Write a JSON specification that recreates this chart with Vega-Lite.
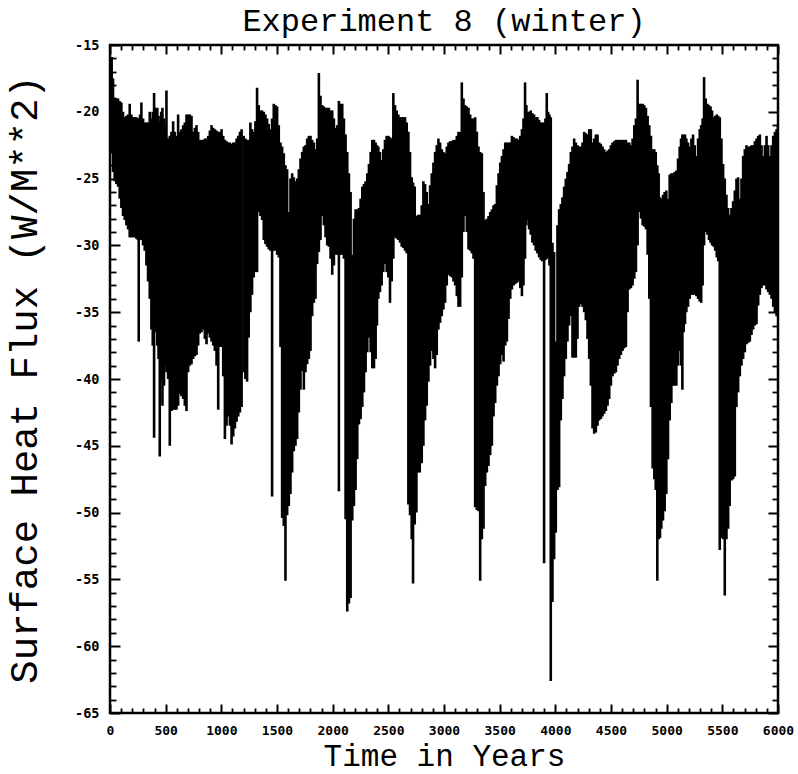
{
  "$schema": "https://vega.github.io/schema/vega-lite/v6.json",
  "width": 668,
  "height": 668,
  "autosize": {"type": "none"},
  "padding": {"left": 110, "top": 45, "right": 20, "bottom": 61},
  "background": "white",
  "title": {"text": "Experiment 8 (winter)", "font": "Liberation Mono", "fontSize": 32, "fontWeight": "normal", "anchor": "middle", "baseline": "alphabetic", "offset": 12, "dy": 37, "color": "black"},
  "config": {
    "view": {"stroke": "black", "strokeWidth": 2.5},
    "axis": {"grid": false, "domain": false, "labelColor": "black", "tickColor": "black", "titleColor": "black"}
  },
  "resolve": {"axis": {"x": "independent", "y": "independent"}},
  "layer": [
    {
      "data": {"values": [
{"t":0,"hi":-16.5,"lo":-21.5},{"t":15,"hi":-15.9,"lo":-23.0},{"t":27,"hi":-17.5,"lo":-24.5},{"t":42,"hi":-19.0,"lo":-25.2},{"t":57,"hi":-19.0,"lo":-25.4},{"t":72,"hi":-19.0,"lo":-25.6},{"t":87,"hi":-19.2,"lo":-26.5},{"t":102,"hi":-19.3,"lo":-27.2},{"t":117,"hi":-20.0,"lo":-27.8},{"t":132,"hi":-20.4,"lo":-28.1},{"t":147,"hi":-20.3,"lo":-28.5},{"t":162,"hi":-20.2,"lo":-28.8},{"t":177,"hi":-19.4,"lo":-29.4},{"t":192,"hi":-20.2,"lo":-29.4},{"t":207,"hi":-20.4,"lo":-29.4},{"t":222,"hi":-20.4,"lo":-29.4},{"t":237,"hi":-20.4,"lo":-29.5},{"t":250,"hi":-20.5,"lo":-29.6},{"t":258,"hi":-20.5,"lo":-37.2},{"t":270,"hi":-20.2,"lo":-29.6},{"t":282,"hi":-19.3,"lo":-29.6},{"t":297,"hi":-20.5,"lo":-30.0},{"t":312,"hi":-20.8,"lo":-30.4},{"t":327,"hi":-20.8,"lo":-31.5},{"t":342,"hi":-20.8,"lo":-32.7},{"t":357,"hi":-20.0,"lo":-34.0},{"t":372,"hi":-20.5,"lo":-36.3},{"t":384,"hi":-20.0,"lo":-37.5},{"t":396,"hi":-18.6,"lo":-44.4},{"t":410,"hi":-19.7,"lo":-36.5},{"t":425,"hi":-19.7,"lo":-37.5},{"t":436,"hi":-20.3,"lo":-38.5},{"t":447,"hi":-20.7,"lo":-45.8},{"t":460,"hi":-20.0,"lo":-40.0},{"t":471,"hi":-19.7,"lo":-42.0},{"t":485,"hi":-20.5,"lo":-40.5},{"t":496,"hi":-21.0,"lo":-39.0},{"t":507,"hi":-18.4,"lo":-39.5},{"t":522,"hi":-22.0,"lo":-40.0},{"t":537,"hi":-21.8,"lo":-45.0},{"t":552,"hi":-21.5,"lo":-42.4},{"t":567,"hi":-20.7,"lo":-42.3},{"t":582,"hi":-21.5,"lo":-42.3},{"t":597,"hi":-21.8,"lo":-42.3},{"t":612,"hi":-20.2,"lo":-42.0},{"t":627,"hi":-21.5,"lo":-41.1},{"t":642,"hi":-21.3,"lo":-41.3},{"t":657,"hi":-21.0,"lo":-41.5},{"t":672,"hi":-20.8,"lo":-42.0},{"t":687,"hi":-20.2,"lo":-42.4},{"t":702,"hi":-20.2,"lo":-39.5},{"t":717,"hi":-20.2,"lo":-39.0},{"t":732,"hi":-20.3,"lo":-38.9},{"t":747,"hi":-21.5,"lo":-38.5},{"t":762,"hi":-21.2,"lo":-38.3},{"t":777,"hi":-21.0,"lo":-38.2},{"t":792,"hi":-21.5,"lo":-37.5},{"t":807,"hi":-22.1,"lo":-36.6},{"t":822,"hi":-22.1,"lo":-36.5},{"t":837,"hi":-22.1,"lo":-36.3},{"t":852,"hi":-22.0,"lo":-37.0},{"t":867,"hi":-22.0,"lo":-37.4},{"t":882,"hi":-21.8,"lo":-36.6},{"t":897,"hi":-21.4,"lo":-36.9},{"t":912,"hi":-21.0,"lo":-37.2},{"t":927,"hi":-21.2,"lo":-37.5},{"t":942,"hi":-21.3,"lo":-37.9},{"t":957,"hi":-21.4,"lo":-39.0},{"t":972,"hi":-21.5,"lo":-42.3},{"t":987,"hi":-21.5,"lo":-37.6},{"t":1002,"hi":-21.3,"lo":-37.6},{"t":1017,"hi":-21.8,"lo":-39.8},{"t":1032,"hi":-22.1,"lo":-44.5},{"t":1047,"hi":-22.2,"lo":-43.5},{"t":1062,"hi":-22.3,"lo":-42.8},{"t":1077,"hi":-22.3,"lo":-43.5},{"t":1092,"hi":-22.4,"lo":-44.9},{"t":1107,"hi":-22.3,"lo":-44.3},{"t":1122,"hi":-22.3,"lo":-43.7},{"t":1137,"hi":-22.0,"lo":-43.2},{"t":1152,"hi":-21.8,"lo":-42.8},{"t":1167,"hi":-21.5,"lo":-42.5},{"t":1182,"hi":-21.3,"lo":-42.1},
{"t":1201,"hi":-21.8,"lo":-39.5},{"t":1216,"hi":-22.0,"lo":-40.0},{"t":1231,"hi":-22.1,"lo":-40.2},{"t":1246,"hi":-22.1,"lo":-36.9},{"t":1261,"hi":-20.8,"lo":-35.0},{"t":1276,"hi":-21.3,"lo":-33.7},{"t":1291,"hi":-21.5,"lo":-32.4},{"t":1306,"hi":-20.7,"lo":-32.0},{"t":1321,"hi":-18.2,"lo":-32.0},{"t":1336,"hi":-19.5,"lo":-27.5},{"t":1351,"hi":-19.9,"lo":-27.8},{"t":1366,"hi":-19.9,"lo":-28.1},{"t":1381,"hi":-20.0,"lo":-29.6},{"t":1396,"hi":-20.2,"lo":-29.9},{"t":1411,"hi":-20.5,"lo":-30.1},{"t":1426,"hi":-20.9,"lo":-30.3},{"t":1441,"hi":-21.3,"lo":-30.4},{"t":1456,"hi":-20.5,"lo":-48.8},{"t":1471,"hi":-19.4,"lo":-30.4},{"t":1486,"hi":-19.5,"lo":-30.4},{"t":1501,"hi":-19.6,"lo":-30.7},{"t":1516,"hi":-21.0,"lo":-30.9},{"t":1531,"hi":-22.3,"lo":-37.6},{"t":1546,"hi":-22.6,"lo":-50.4},{"t":1561,"hi":-23.1,"lo":-51.0},{"t":1576,"hi":-24.0,"lo":-55.1},{"t":1591,"hi":-24.3,"lo":-50.2},{"t":1606,"hi":-27.5,"lo":-49.5},{"t":1621,"hi":-25.0,"lo":-48.6},{"t":1636,"hi":-24.6,"lo":-47.0},{"t":1651,"hi":-24.9,"lo":-45.4},{"t":1666,"hi":-25.2,"lo":-45.0},{"t":1681,"hi":-25.0,"lo":-44.5},{"t":1696,"hi":-24.3,"lo":-42.5},{"t":1711,"hi":-23.5,"lo":-40.8},{"t":1726,"hi":-23.0,"lo":-39.4},{"t":1741,"hi":-22.6,"lo":-40.8},{"t":1756,"hi":-22.5,"lo":-39.5},{"t":1771,"hi":-22.0,"lo":-38.9},{"t":1786,"hi":-21.8,"lo":-38.5},{"t":1801,"hi":-21.8,"lo":-37.9},{"t":1816,"hi":-22.1,"lo":-35.3},{"t":1831,"hi":-22.3,"lo":-34.3},{"t":1846,"hi":-22.8,"lo":-34.0},{"t":1861,"hi":-22.0,"lo":-31.4},{"t":1876,"hi":-17.1,"lo":-30.5},{"t":1891,"hi":-18.8,"lo":-29.6},{"t":1906,"hi":-19.5,"lo":-27.8},{"t":1921,"hi":-19.6,"lo":-28.5},{"t":1936,"hi":-19.7,"lo":-29.4},{"t":1951,"hi":-19.7,"lo":-30.0},{"t":1966,"hi":-19.7,"lo":-30.1},{"t":1981,"hi":-19.9,"lo":-31.0},{"t":1996,"hi":-19.9,"lo":-32.2},{"t":2011,"hi":-20.5,"lo":-31.5},{"t":2026,"hi":-21.2,"lo":-30.7},{"t":2041,"hi":-21.0,"lo":-30.7},{"t":2056,"hi":-19.2,"lo":-48.4},{"t":2071,"hi":-19.4,"lo":-30.7},{"t":2086,"hi":-19.4,"lo":-30.7},{"t":2101,"hi":-20.5,"lo":-31.0},{"t":2116,"hi":-21.7,"lo":-50.5},{"t":2131,"hi":-23.0,"lo":-57.4},{"t":2146,"hi":-24.6,"lo":-56.8},{"t":2161,"hi":-26.0,"lo":-56.4},{"t":2176,"hi":-30.7,"lo":-50.6},{"t":2191,"hi":-28.0,"lo":-49.5},{"t":2206,"hi":-27.3,"lo":-48.3},{"t":2221,"hi":-27.3,"lo":-46.0},{"t":2236,"hi":-27.2,"lo":-43.4},{"t":2251,"hi":-26.5,"lo":-43.0},{"t":2266,"hi":-25.6,"lo":-42.1},{"t":2281,"hi":-25.4,"lo":-41.0},{"t":2296,"hi":-25.2,"lo":-39.5},{"t":2311,"hi":-24.6,"lo":-38.0},{"t":2326,"hi":-23.9,"lo":-36.9},{"t":2341,"hi":-23.0,"lo":-38.0},{"t":2356,"hi":-22.1,"lo":-39.2},{"t":2371,"hi":-22.1,"lo":-39.2},{"t":2386,"hi":-22.3,"lo":-38.5},{"t":2398,"hi":-22.5,"lo":-36.0},
{"t":2410,"hi":-22.6,"lo":-34.0},{"t":2425,"hi":-23.0,"lo":-33.5},{"t":2440,"hi":-23.6,"lo":-33.0},{"t":2455,"hi":-22.8,"lo":-32.0},{"t":2470,"hi":-22.1,"lo":-31.4},{"t":2485,"hi":-21.8,"lo":-32.0},{"t":2500,"hi":-21.8,"lo":-32.4},{"t":2515,"hi":-21.9,"lo":-34.3},{"t":2530,"hi":-22.0,"lo":-32.7},{"t":2545,"hi":-18.6,"lo":-31.0},{"t":2560,"hi":-19.5,"lo":-29.4},{"t":2575,"hi":-19.9,"lo":-29.5},{"t":2590,"hi":-20.2,"lo":-29.6},{"t":2605,"hi":-20.4,"lo":-29.8},{"t":2620,"hi":-20.4,"lo":-30.1},{"t":2635,"hi":-20.4,"lo":-30.2},{"t":2650,"hi":-20.4,"lo":-30.4},{"t":2665,"hi":-20.8,"lo":-30.6},{"t":2680,"hi":-21.5,"lo":-49.4},{"t":2695,"hi":-23.0,"lo":-50.2},{"t":2710,"hi":-24.9,"lo":-52.0},{"t":2722,"hi":-25.3,"lo":-55.3},{"t":2737,"hi":-25.6,"lo":-50.9},{"t":2752,"hi":-27.8,"lo":-50.0},{"t":2767,"hi":-27.7,"lo":-47.0},{"t":2782,"hi":-27.7,"lo":-47.0},{"t":2800,"hi":-27.0,"lo":-46.3},{"t":2815,"hi":-25.2,"lo":-45.0},{"t":2830,"hi":-25.4,"lo":-43.1},{"t":2845,"hi":-26.0,"lo":-42.0},{"t":2860,"hi":-26.9,"lo":-40.2},{"t":2875,"hi":-25.5,"lo":-39.0},{"t":2890,"hi":-24.6,"lo":-37.9},{"t":2905,"hi":-23.8,"lo":-38.5},{"t":2920,"hi":-23.0,"lo":-39.2},{"t":2935,"hi":-22.5,"lo":-38.2},{"t":2950,"hi":-22.0,"lo":-36.3},{"t":2965,"hi":-22.3,"lo":-35.8},{"t":2980,"hi":-22.8,"lo":-35.3},{"t":2995,"hi":-23.0,"lo":-34.8},{"t":3010,"hi":-23.1,"lo":-34.3},{"t":3025,"hi":-22.6,"lo":-33.0},{"t":3040,"hi":-22.3,"lo":-32.2},{"t":3055,"hi":-22.2,"lo":-32.3},{"t":3070,"hi":-22.2,"lo":-32.4},{"t":3085,"hi":-22.1,"lo":-32.7},{"t":3100,"hi":-22.1,"lo":-33.0},{"t":3115,"hi":-21.8,"lo":-33.8},{"t":3130,"hi":-21.5,"lo":-34.6},{"t":3145,"hi":-21.5,"lo":-34.6},{"t":3160,"hi":-17.8,"lo":-32.4},{"t":3175,"hi":-19.0,"lo":-29.0},{"t":3190,"hi":-19.5,"lo":-27.8},{"t":3205,"hi":-19.6,"lo":-29.0},{"t":3220,"hi":-19.7,"lo":-30.3},{"t":3235,"hi":-20.2,"lo":-30.4},{"t":3250,"hi":-20.5,"lo":-30.6},{"t":3265,"hi":-20.5,"lo":-31.0},{"t":3280,"hi":-20.4,"lo":-49.6},{"t":3295,"hi":-21.5,"lo":-49.8},{"t":3310,"hi":-22.6,"lo":-49.9},{"t":3325,"hi":-23.0,"lo":-55.1},{"t":3340,"hi":-23.1,"lo":-52.0},{"t":3355,"hi":-26.0,"lo":-51.2},{"t":3370,"hi":-28.1,"lo":-48.0},{"t":3385,"hi":-28.0,"lo":-47.0},{"t":3400,"hi":-27.8,"lo":-46.5},{"t":3415,"hi":-27.5,"lo":-45.7},{"t":3430,"hi":-27.3,"lo":-45.0},{"t":3445,"hi":-27.0,"lo":-42.8},{"t":3460,"hi":-26.9,"lo":-41.8},{"t":3475,"hi":-25.5,"lo":-40.5},{"t":3490,"hi":-24.6,"lo":-39.8},{"t":3505,"hi":-23.8,"lo":-38.9},{"t":3520,"hi":-23.3,"lo":-38.2},{"t":3535,"hi":-22.8,"lo":-38.7},{"t":3550,"hi":-22.3,"lo":-37.5},{"t":3565,"hi":-22.3,"lo":-37.2},{"t":3580,"hi":-22.3,"lo":-35.5},
{"t":3595,"hi":-22.3,"lo":-34.0},{"t":3610,"hi":-21.8,"lo":-33.3},{"t":3625,"hi":-21.9,"lo":-33.0},{"t":3640,"hi":-22.0,"lo":-32.9},{"t":3655,"hi":-22.0,"lo":-32.8},{"t":3670,"hi":-22.1,"lo":-32.7},{"t":3685,"hi":-21.8,"lo":-33.2},{"t":3700,"hi":-21.3,"lo":-33.8},{"t":3714,"hi":-20.5,"lo":-33.0},{"t":3728,"hi":-17.8,"lo":-31.0},{"t":3740,"hi":-19.5,"lo":-28.5},{"t":3752,"hi":-20.0,"lo":-28.1},{"t":3764,"hi":-20.0,"lo":-28.8},{"t":3779,"hi":-19.9,"lo":-29.2},{"t":3794,"hi":-20.1,"lo":-29.8},{"t":3809,"hi":-20.2,"lo":-30.0},{"t":3824,"hi":-20.4,"lo":-30.4},{"t":3839,"hi":-20.4,"lo":-30.6},{"t":3854,"hi":-20.6,"lo":-30.9},{"t":3869,"hi":-20.8,"lo":-31.1},{"t":3884,"hi":-20.8,"lo":-31.2},{"t":3899,"hi":-20.8,"lo":-53.8},{"t":3911,"hi":-20.5,"lo":-31.1},{"t":3923,"hi":-18.6,"lo":-31.0},{"t":3935,"hi":-20.0,"lo":-30.9},{"t":3947,"hi":-20.2,"lo":-31.5},{"t":3959,"hi":-20.4,"lo":-62.6},{"t":3974,"hi":-29.8,"lo":-56.7},{"t":3989,"hi":-30.5,"lo":-53.5},{"t":4004,"hi":-37.2,"lo":-51.5},{"t":4019,"hi":-28.5,"lo":-48.3},{"t":4034,"hi":-27.3,"lo":-48.1},{"t":4049,"hi":-26.9,"lo":-43.1},{"t":4064,"hi":-26.4,"lo":-41.5},{"t":4079,"hi":-25.6,"lo":-39.8},{"t":4094,"hi":-25.0,"lo":-38.5},{"t":4109,"hi":-24.5,"lo":-37.2},{"t":4124,"hi":-23.9,"lo":-36.0},{"t":4139,"hi":-23.0,"lo":-35.3},{"t":4154,"hi":-22.6,"lo":-38.4},{"t":4169,"hi":-22.0,"lo":-38.4},{"t":4184,"hi":-22.3,"lo":-38.4},{"t":4199,"hi":-22.5,"lo":-37.0},{"t":4214,"hi":-22.6,"lo":-34.6},{"t":4229,"hi":-22.6,"lo":-34.4},{"t":4244,"hi":-22.3,"lo":-34.6},{"t":4259,"hi":-21.5,"lo":-35.0},{"t":4274,"hi":-21.6,"lo":-35.6},{"t":4289,"hi":-21.7,"lo":-37.0},{"t":4304,"hi":-21.3,"lo":-38.5},{"t":4319,"hi":-21.3,"lo":-40.5},{"t":4334,"hi":-22.3,"lo":-43.7},{"t":4349,"hi":-22.0,"lo":-44.1},{"t":4364,"hi":-21.7,"lo":-44.0},{"t":4379,"hi":-21.7,"lo":-43.5},{"t":4394,"hi":-22.3,"lo":-43.1},{"t":4409,"hi":-22.4,"lo":-43.0},{"t":4424,"hi":-22.6,"lo":-42.8},{"t":4439,"hi":-22.8,"lo":-42.6},{"t":4454,"hi":-23.0,"lo":-42.4},{"t":4469,"hi":-22.9,"lo":-42.0},{"t":4484,"hi":-22.8,"lo":-41.5},{"t":4499,"hi":-22.5,"lo":-40.5},{"t":4514,"hi":-22.3,"lo":-39.8},{"t":4529,"hi":-22.2,"lo":-39.6},{"t":4544,"hi":-22.1,"lo":-39.5},{"t":4559,"hi":-22.1,"lo":-39.0},{"t":4574,"hi":-22.1,"lo":-38.5},{"t":4589,"hi":-22.1,"lo":-38.2},{"t":4604,"hi":-22.1,"lo":-37.9},{"t":4619,"hi":-22.1,"lo":-37.7},{"t":4634,"hi":-22.1,"lo":-37.6},{"t":4649,"hi":-22.3,"lo":-35.0},{"t":4664,"hi":-22.3,"lo":-33.3},{"t":4679,"hi":-22.5,"lo":-33.2},{"t":4694,"hi":-22.0,"lo":-33.0},{"t":4709,"hi":-21.0,"lo":-32.5},{"t":4724,"hi":-20.5,"lo":-32.0},{"t":4739,"hi":-17.6,"lo":-30.0},{"t":4754,"hi":-19.4,"lo":-27.5},{"t":4769,"hi":-19.4,"lo":-28.0},{"t":4784,"hi":-19.4,"lo":-28.5},
{"t":4799,"hi":-19.5,"lo":-28.6},{"t":4814,"hi":-19.7,"lo":-28.8},{"t":4829,"hi":-20.3,"lo":-30.7},{"t":4844,"hi":-21.0,"lo":-34.0},{"t":4859,"hi":-21.8,"lo":-42.1},{"t":4874,"hi":-22.8,"lo":-46.7},{"t":4889,"hi":-22.8,"lo":-47.5},{"t":4902,"hi":-23.0,"lo":-48.3},{"t":4916,"hi":-24.0,"lo":-55.1},{"t":4928,"hi":-24.6,"lo":-52.0},{"t":4940,"hi":-26.4,"lo":-51.9},{"t":4952,"hi":-26.5,"lo":-51.2},{"t":4967,"hi":-26.2,"lo":-50.6},{"t":4982,"hi":-26.0,"lo":-49.9},{"t":4997,"hi":-25.9,"lo":-48.6},{"t":5012,"hi":-26.5,"lo":-46.0},{"t":5027,"hi":-24.7,"lo":-43.1},{"t":5042,"hi":-24.6,"lo":-41.8},{"t":5057,"hi":-24.6,"lo":-40.5},{"t":5072,"hi":-24.5,"lo":-40.5},{"t":5087,"hi":-24.4,"lo":-40.5},{"t":5102,"hi":-23.5,"lo":-39.0},{"t":5117,"hi":-22.6,"lo":-37.9},{"t":5129,"hi":-22.0,"lo":-39.0},{"t":5141,"hi":-21.7,"lo":-40.8},{"t":5153,"hi":-21.7,"lo":-36.5},{"t":5165,"hi":-21.7,"lo":-35.9},{"t":5177,"hi":-22.0,"lo":-35.0},{"t":5192,"hi":-22.3,"lo":-34.6},{"t":5207,"hi":-22.6,"lo":-34.0},{"t":5222,"hi":-22.0,"lo":-33.7},{"t":5237,"hi":-21.7,"lo":-33.7},{"t":5252,"hi":-22.5,"lo":-33.7},{"t":5267,"hi":-23.3,"lo":-33.8},{"t":5282,"hi":-22.0,"lo":-34.0},{"t":5297,"hi":-21.3,"lo":-34.2},{"t":5310,"hi":-21.0,"lo":-34.3},{"t":5323,"hi":-20.5,"lo":-33.0},{"t":5336,"hi":-17.4,"lo":-30.0},{"t":5351,"hi":-19.0,"lo":-29.0},{"t":5366,"hi":-19.4,"lo":-29.2},{"t":5380,"hi":-19.5,"lo":-29.6},{"t":5394,"hi":-19.6,"lo":-29.8},{"t":5408,"hi":-19.9,"lo":-30.0},{"t":5422,"hi":-20.4,"lo":-30.1},{"t":5436,"hi":-20.3,"lo":-30.4},{"t":5450,"hi":-20.2,"lo":-30.9},{"t":5463,"hi":-20.3,"lo":-31.2},{"t":5477,"hi":-20.4,"lo":-52.8},{"t":5492,"hi":-22.0,"lo":-51.9},{"t":5507,"hi":-23.9,"lo":-52.0},{"t":5522,"hi":-25.0,"lo":-56.2},{"t":5537,"hi":-26.2,"lo":-52.0},{"t":5552,"hi":-27.2,"lo":-51.2},{"t":5566,"hi":-27.7,"lo":-49.5},{"t":5582,"hi":-27.2,"lo":-47.6},{"t":5597,"hi":-26.7,"lo":-47.5},{"t":5612,"hi":-25.9,"lo":-47.3},{"t":5627,"hi":-25.0,"lo":-42.1},{"t":5642,"hi":-24.9,"lo":-41.0},{"t":5657,"hi":-26.5,"lo":-39.8},{"t":5672,"hi":-25.0,"lo":-39.0},{"t":5687,"hi":-23.3,"lo":-38.5},{"t":5702,"hi":-22.8,"lo":-38.0},{"t":5717,"hi":-22.5,"lo":-37.4},{"t":5732,"hi":-22.6,"lo":-37.3},{"t":5747,"hi":-22.6,"lo":-37.2},{"t":5762,"hi":-22.5,"lo":-36.7},{"t":5777,"hi":-22.5,"lo":-36.3},{"t":5792,"hi":-22.2,"lo":-36.0},{"t":5807,"hi":-22.0,"lo":-35.9},{"t":5822,"hi":-21.8,"lo":-34.5},{"t":5837,"hi":-21.7,"lo":-33.7},{"t":5852,"hi":-22.5,"lo":-33.2},{"t":5867,"hi":-23.3,"lo":-33.0},{"t":5882,"hi":-22.5,"lo":-33.0},{"t":5897,"hi":-21.8,"lo":-33.3},{"t":5912,"hi":-22.5,"lo":-33.5},{"t":5927,"hi":-23.3,"lo":-33.7},{"t":5942,"hi":-22.5,"lo":-34.0},{"t":5957,"hi":-21.8,"lo":-34.6},{"t":5972,"hi":-21.5,"lo":-35.0},{"t":5987,"hi":-21.3,"lo":-35.3},{"t":6000,"hi":-21.0,"lo":-35.3}
      ]},
      "mark": {"type": "rule", "color": "black", "strokeWidth": 2.6, "strokeCap": "butt", "clip": true},
      "encoding": {
        "x": {"field": "t", "type": "quantitative", "scale": {"domain": [0, 6000], "nice": false, "zero": false},
          "axis": {"orient": "bottom", "values": [0,500,1000,1500,2000,2500,3000,3500,4000,4500,5000,5500,6000], "ticks": false, "labelFont": "DejaVu Sans Mono", "labelFontWeight": "bold", "labelFontSize": 13, "labelPadding": 11, "labelFlush": false, "labelOverlap": false, "labelExpr": "'' + datum.value",
            "title": "Time in Years", "titleFont": "Liberation Mono", "titleFontSize": 31, "titleFontWeight": "normal", "titleY": 52, "titleBaseline": "alphabetic"}},
        "y": {"field": "lo", "type": "quantitative", "scale": {"domain": [-65, -15], "nice": false, "zero": false},
          "axis": {"orient": "left", "values": [-65,-60,-55,-50,-45,-40,-35,-30,-25,-20,-15], "ticks": false, "labelFont": "DejaVu Sans Mono", "labelFontWeight": "bold", "labelFontSize": 13.5, "labelPadding": 11, "labelFlush": false, "labelOverlap": false, "labelExpr": "'' + datum.value",
            "title": "Surface Heat Flux (W/M**2)", "titleFont": "Liberation Mono", "titleFontSize": 39, "titleFontWeight": "normal", "titleX": -74, "titleY": 334, "titleAngle": 270, "titleAlign": "center", "titleBaseline": "alphabetic"}},
        "y2": {"field": "hi"}
      }
    },
    {
      "data": {"values": [{"t": 0, "v": -40}]},
      "mark": {"type": "point", "opacity": 0},
      "encoding": {
        "x": {"field": "t", "type": "quantitative", "scale": {"domain": [0, 6000], "nice": false, "zero": false},
          "axis": {"orient": "bottom", "values": [0,500,1000,1500,2000,2500,3000,3500,4000,4500,5000,5500,6000], "labels": false, "tickSize": -9, "tickWidth": 2, "title": null}},
        "y": {"field": "v", "type": "quantitative", "scale": {"domain": [-65, -15], "nice": false, "zero": false},
          "axis": {"orient": "left", "values": [-65,-60,-55,-50,-45,-40,-35,-30,-25,-20,-15], "labels": false, "tickSize": -10, "tickWidth": 2, "title": null}}
      }
    },
    {
      "data": {"values": [{"t": 0, "v": -40}]},
      "mark": {"type": "point", "opacity": 0},
      "encoding": {
        "x": {"field": "t", "type": "quantitative", "scale": {"domain": [0, 6000], "nice": false, "zero": false},
          "axis": {"orient": "bottom", "values": [100,200,300,400,600,700,800,900,1100,1200,1300,1400,1600,1700,1800,1900,2100,2200,2300,2400,2600,2700,2800,2900,3100,3200,3300,3400,3600,3700,3800,3900,4100,4200,4300,4400,4600,4700,4800,4900,5100,5200,5300,5400,5600,5700,5800,5900], "labels": false, "tickSize": -5, "tickWidth": 1.8, "title": null}},
        "y": {"field": "v", "type": "quantitative", "scale": {"domain": [-65, -15], "nice": false, "zero": false},
          "axis": {"orient": "left", "values": [-64,-63,-62,-61,-59,-58,-57,-56,-54,-53,-52,-51,-49,-48,-47,-46,-44,-43,-42,-41,-39,-38,-37,-36,-34,-33,-32,-31,-29,-28,-27,-26,-24,-23,-22,-21,-19,-18,-17,-16], "labels": false, "tickSize": -6, "tickWidth": 1.8, "title": null}}
      }
    },
    {
      "data": {"values": [{"t": 0, "v": -40}]},
      "mark": {"type": "point", "opacity": 0},
      "encoding": {
        "x": {"field": "t", "type": "quantitative", "scale": {"domain": [0, 6000], "nice": false, "zero": false},
          "axis": {"orient": "top", "values": [0,500,1000,1500,2000,2500,3000,3500,4000,4500,5000,5500,6000], "labels": false, "tickSize": -9, "tickWidth": 2, "title": null}},
        "y": {"field": "v", "type": "quantitative", "scale": {"domain": [-65, -15], "nice": false, "zero": false},
          "axis": {"orient": "right", "values": [-65,-60,-55,-50,-45,-40,-35,-30,-25,-20,-15], "labels": false, "tickSize": -10, "tickWidth": 2, "title": null}}
      }
    },
    {
      "data": {"values": [{"t": 0, "v": -40}]},
      "mark": {"type": "point", "opacity": 0},
      "encoding": {
        "x": {"field": "t", "type": "quantitative", "scale": {"domain": [0, 6000], "nice": false, "zero": false},
          "axis": {"orient": "top", "values": [100,200,300,400,600,700,800,900,1100,1200,1300,1400,1600,1700,1800,1900,2100,2200,2300,2400,2600,2700,2800,2900,3100,3200,3300,3400,3600,3700,3800,3900,4100,4200,4300,4400,4600,4700,4800,4900,5100,5200,5300,5400,5600,5700,5800,5900], "labels": false, "tickSize": -5, "tickWidth": 1.8, "title": null}},
        "y": {"field": "v", "type": "quantitative", "scale": {"domain": [-65, -15], "nice": false, "zero": false},
          "axis": {"orient": "right", "values": [-64,-63,-62,-61,-59,-58,-57,-56,-54,-53,-52,-51,-49,-48,-47,-46,-44,-43,-42,-41,-39,-38,-37,-36,-34,-33,-32,-31,-29,-28,-27,-26,-24,-23,-22,-21,-19,-18,-17,-16], "labels": false, "tickSize": -6, "tickWidth": 1.8, "title": null}}
      }
    }
  ]
}
